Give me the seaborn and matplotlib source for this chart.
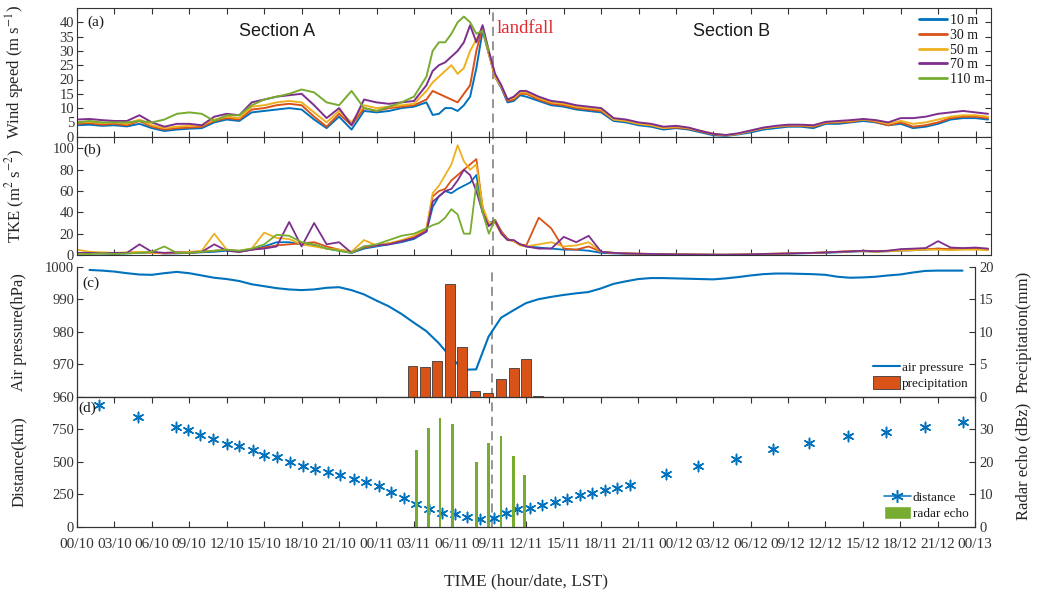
import numpy as np
import pandas as pd
import matplotlib
matplotlib.use("Agg")
import matplotlib.pyplot as plt
import seaborn as sns
from matplotlib.lines import Line2D
from matplotlib.patches import Patch

# ---------------- data ----------------
tick_labels = ["00/10", "03/10", "06/10", "09/10", "12/10", "15/10", "18/10", "21/10",
               "00/11", "03/11", "06/11", "09/11", "12/11", "15/11", "18/11", "21/11",
               "00/12", "03/12", "06/12", "09/12", "12/12", "15/12", "18/12", "21/12", "00/13"]
heights = ["10 m", "30 m", "50 m", "70 m", "110 m"]
line_colors = ["#0072BD", "#D95319", "#EDB120", "#7E2F8E", "#77AC30"]

# time (hours since 00 LST on the 10th) of the wind / TKE samples
time_h = [0, 1, 2, 3, 4, 5, 6, 7, 8, 9, 10, 11, 12, 13, 14, 15, 16, 17, 18, 19,
          20, 21, 22, 23, 24, 25, 26, 27,
          28.0, 28.5, 29.0, 29.5, 30.0, 30.5, 31.0, 31.5, 32.0, 32.5, 33.0, 33.5,
          34.0, 34.5, 35.0, 35.5,
          36, 37, 38, 39, 40, 41, 42, 43, 44, 45, 46, 47, 48, 49, 50, 51, 52, 53,
          54, 55, 56, 57, 58, 59, 60, 61, 62, 63, 64, 65, 66, 67, 68, 69, 70, 71, 72, 73]

ws_10 = [4.0, 4.2, 3.8, 4.0, 3.6, 4.5, 3.0, 2.0, 2.5, 2.8, 3.0, 5.0, 6.0, 5.5, 8.5, 9.0,
         9.5, 10.0, 9.5, 6.0, 3.0, 7.0, 2.5, 9.0, 8.5, 9.0, 10.0, 10.5,
         12, 7.6, 8, 10, 10, 9, 11, 14, 24, 37, 29, 21, 17, 12, 12.5, 14.5,
         14.0, 12.5, 11.0, 10.5, 9.5, 9.0, 8.5, 5.5, 5.0, 4.0, 3.5, 2.5, 3.0, 2.5, 1.5,
         0.5, 0.3, 0.8, 1.5, 2.5, 3.0, 3.5, 3.5, 3.0, 4.5, 4.5, 5.0, 5.5, 5.0, 4.0, 4.5,
         3.0, 3.5, 4.5, 6.0, 6.5, 6.5, 6.0]
ws_30 = [4.5, 4.8, 4.2, 4.5, 4.0, 5.5, 3.5, 2.5, 3.0, 3.2, 3.5, 5.5, 6.5, 6.0, 9.5, 10.0,
         11.0, 11.5, 11.0, 7.0, 3.5, 8.0, 4.0, 10.0, 9.0, 10.0, 10.5, 11.0,
         13, 16, 15, 14, 13, 12, 15, 18, 30, 38, 29, 21, 17.5, 12.5, 13, 15,
         15.0, 13.0, 11.5, 11.0, 10.0, 9.5, 9.0, 6.0, 5.5, 4.5, 4.0, 3.0, 3.2, 2.8, 1.8,
         0.8, 0.5, 1.0, 2.0, 3.0, 3.5, 3.8, 3.8, 3.5, 4.8, 5.0, 5.2, 6.0, 5.2, 4.0, 5.0,
         3.5, 4.0, 5.0, 6.5, 7.0, 7.0, 6.5]
ws_50 = [5.0, 5.2, 4.8, 5.0, 4.5, 6.0, 4.0, 3.0, 3.5, 3.8, 4.0, 6.0, 7.0, 6.5, 10.5, 11.0,
         12.0, 12.5, 12.0, 8.5, 5.0, 9.0, 5.0, 11.0, 10.0, 10.5, 11.0, 11.5,
         16, 19, 21, 23, 25, 22, 24, 30, 34, 38, 29, 21, 17.5, 13, 13.5, 15.5,
         15.5, 13.5, 12.0, 11.5, 10.5, 10.0, 9.5, 6.0, 5.5, 4.5, 4.0, 3.0, 3.5, 3.0, 2.0,
         1.0, 0.5, 1.0, 2.0, 3.0, 3.5, 4.0, 4.0, 3.8, 5.0, 5.2, 5.5, 6.0, 5.5, 4.5, 5.5,
         4.5, 5.0, 6.0, 7.0, 7.5, 7.5, 7.0]
ws_70 = [6.0, 6.2, 5.8, 5.5, 5.5, 7.5, 5.0, 3.5, 4.5, 4.5, 4.0, 7.0, 8.0, 7.5, 12.0, 13.0,
         14.0, 14.5, 15.0, 11.0, 6.5, 10.0, 4.0, 13.0, 12.0, 11.5, 12.0, 12.5,
         18, 23, 25, 26, 28, 30, 33, 39, 33, 39, 30, 22, 18, 13, 14, 16,
         16.0, 14.0, 12.5, 12.0, 11.0, 10.5, 10.0, 6.5, 6.0, 5.0, 4.5, 3.5, 3.8, 3.2, 2.0,
         1.0, 0.6, 1.2, 2.2, 3.2, 3.8, 4.2, 4.2, 4.0, 5.2, 5.5, 5.8, 6.2, 5.8, 5.0, 6.5,
         6.5, 7.0, 8.0, 8.5, 9.0, 8.5, 8.0]
ws_110 = [5.0, 5.5, 5.0, 5.0, 5.0, 5.5, 5.0, 6.0, 8.0, 8.5, 8.0, 5.5, 7.5, 7.5, 11.0, 13.0,
          14.0, 15.0, 16.5, 15.5, 12.0, 11.0, 16.0, 10.0, 9.0, 10.5, 12.0, 14.0,
          21, 30, 33, 33, 36, 40, 42, 40, 36, 37, 30]

tke_10 = [2, 1.5, 1.5, 1, 1.5, 2, 2.5, 1.5, 1.5, 2, 2.5, 3, 4, 3, 5, 8, 12, 12, 10, 9,
          6, 4, 2, 6, 8, 10, 12, 15,
          22, 45, 55, 60, 58, 62, 65, 68, 75, 40, 30, 32, 22, 15, 13, 10,
          8, 7, 6, 5, 5, 4, 2, 1.5, 1.2, 1.0, 0.8, 0.6, 0.5, 0.4, 0.3, 0.2, 0.2, 0.3, 0.5,
          0.8, 1.0, 1.2, 1.5, 1.8, 2.0, 2.5, 3.0, 3.5, 3.0, 3.5, 4.0, 4.5, 5.0, 6.0, 5.0,
          5.5, 6.0, 5.0]
tke_30 = [1.5, 1.5, 2, 1.5, 2, 2.5, 2, 1.5, 2, 2, 3, 4, 5, 3, 5, 7, 9, 10, 11, 12,
          8, 5, 3, 7, 9, 11, 13, 17,
          24, 55, 60, 62, 70, 75, 80, 85, 90, 45, 28, 33, 22, 15, 13, 10,
          9, 35, 25, 6, 5, 8, 3, 2, 1.5, 1.2, 1.0, 0.8, 0.6, 0.5, 0.4, 0.3, 0.3, 0.4, 0.6,
          1.0, 1.2, 1.5, 1.8, 2.0, 2.5, 3.0, 3.5, 4.0, 3.5, 4.0, 5.0, 5.0, 5.5, 6.0, 5.5,
          6.0, 6.0, 5.5]
tke_50 = [5, 3, 2.5, 2, 2.5, 3, 2, 2, 2.5, 3, 4, 20, 5, 4, 6, 21, 16, 15, 10, 8,
          6, 5, 3, 14, 9, 11, 14, 18,
          25, 58, 65, 75, 85, 103, 88, 80, 85, 45, 30, 30, 20, 14, 13, 9,
          8, 10, 12, 8, 9, 12, 3, 2, 1.5, 1.2, 1.0, 0.8, 0.6, 0.5, 0.4, 0.3, 0.3, 0.4, 0.6,
          1.0, 1.2, 1.5, 1.8, 2.0, 2.5, 3.0, 3.5, 3.5, 3.0, 3.5, 4.0, 4.5, 5.0, 5.0, 4.5,
          5.0, 5.0, 4.5]
tke_70 = [2, 2, 1.5, 2, 2, 10, 3, 2, 2.5, 2, 3, 10, 4, 3, 5, 6, 8, 31, 8, 30,
          10, 12, 2, 8, 9, 10, 13, 16,
          22, 50, 55, 60, 62, 70, 80, 75, 60, 40, 27, 32, 20, 14, 14, 10,
          8, 6, 6, 17, 12, 18, 3, 2, 1.5, 1.2, 1.0, 0.8, 0.6, 0.5, 0.4, 0.3, 0.3, 0.4, 0.6,
          1.0, 1.2, 1.5, 1.8, 2.0, 2.5, 3.0, 3.5, 4.0, 3.5, 4.0, 5.5, 6.0, 6.5, 13, 7,
          6.5, 7, 6]
tke_110 = [1, 1, 1.5, 1, 1.5, 2, 3, 8, 2, 2, 3, 4, 5, 4, 6, 10, 19, 18, 12, 10,
           6, 4, 2, 8, 10, 14, 18, 20,
           25, 28, 30, 35, 43, 38, 20, 20, 67, 40, 20, 33]

pres_time = list(range(1, 72))
pres_hpa = [999.0, 998.8, 998.5, 998.0, 997.6, 997.5, 998.0, 998.4, 998.0, 997.3,
            996.6, 996.2, 995.6, 994.6, 994.0, 993.4, 993.0, 992.8, 993.0, 993.5,
            993.7, 992.8, 991.5, 989.6, 987.8, 985.5, 982.8, 980.2, 976.5, 972.0,
            968.3, 968.4, 978.5, 984.3, 986.6, 988.8, 990.0, 990.7, 991.3, 991.8,
            992.2, 993.3, 994.7, 995.5, 996.2, 996.5, 996.5, 996.4, 996.3, 996.2,
            996.1, 996.4, 996.8, 997.3, 997.7, 997.9, 997.9, 997.8, 997.7, 997.5,
            996.9, 996.6, 996.7, 996.9, 997.3, 997.6, 998.2, 998.7, 998.8, 998.8,
            998.8]

precip_time = [26.9, 27.9, 28.9, 29.9, 30.9, 31.9, 32.95, 34.0, 35.05, 36.0, 36.95]
precip_mm = [4.7, 4.5, 5.5, 17.3, 7.6, 0.9, 0.6, 2.7, 4.4, 5.8, 0.1]

dist_time = [1.8, 4.9, 7.9, 8.9, 9.9, 10.9, 12.0, 13.0, 14.1, 15.0,
             16.0, 17.1, 18.1, 19.1, 20.1, 21.1, 22.2, 23.2, 24.2, 25.2,
             26.2, 27.2, 28.2, 29.3, 30.3, 31.3, 32.3, 33.4, 34.4, 35.3,
             36.3, 37.3, 38.3, 39.3, 40.3, 41.3, 42.3, 43.3, 44.3, 47.2,
             49.8, 52.8, 55.8, 58.7, 61.8, 64.9, 68.0, 71.0]
dist_km = [940, 844, 770, 742, 707, 674, 640, 617, 590, 554,
           534, 501, 470, 445, 419, 399, 369, 343, 313, 267,
           224, 178, 140, 102, 94, 76, 59, 69, 102, 133,
           145, 165, 191, 216, 242, 262, 280, 300, 318, 402,
           465, 521, 598, 643, 699, 732, 770, 806]

echo_time = [27.2, 28.2, 29.1, 30.1, 32.05, 33.0, 34.0, 35.0, 35.9]
echo_dbz = [23.7, 30.3, 33.3, 31.6, 19.8, 25.9, 28.0, 21.9, 16.0]

landfall_h = 33.3

# ---------------- style ----------------
sns.set_style("ticks")
plt.rcParams['font.family'] = ['Liberation Serif', 'DejaVu Serif']
plt.rcParams['mathtext.fontset'] = 'stix'
plt.rcParams['axes.edgecolor'] = '#333333'
plt.rcParams['axes.linewidth'] = 0.8
plt.rcParams['xtick.color'] = '#333333'
plt.rcParams['ytick.color'] = '#333333'
plt.rcParams['text.color'] = '#1a1a1a'

W, H = 1040, 592
fig = plt.figure(figsize=(W / 100, H / 100), dpi=100)


def rect(l, t, r, b):
    return [l / W, 1 - b / H, (r - l) / W, (b - t) / H]


ax_a = fig.add_axes(rect(77, 8, 991, 136.7))
ax_b = fig.add_axes(rect(77, 136.7, 991, 255))
ax_c = fig.add_axes(rect(77, 266.7, 975, 396.7))
ax_d = fig.add_axes(rect(77, 396.7, 975, 526.7))

PX_PER_H = 12.48
xmax_ab = (991 - 77) / PX_PER_H
xmax_cd = (975 - 77) / PX_PER_H


def long_frame(series, name):
    frames = []
    for lab, vals in zip(heights, series):
        frames.append(pd.DataFrame({"time": time_h[:len(vals)], name: vals, "height": lab}))
    return pd.concat(frames, ignore_index=True)


df_ws = long_frame([ws_10, ws_30, ws_50, ws_70, ws_110], "ws")
df_tke = long_frame([tke_10, tke_30, tke_50, tke_70, tke_110], "tke")

# ---- (a) wind speed ----
sns.lineplot(data=df_ws, x="time", y="ws", hue="height", hue_order=heights,
             palette=line_colors, lw=1.4, estimator=None, sort=False,
             legend=False, ax=ax_a)
ax_a.set_xlim(0, xmax_ab)
ax_a.set_ylim(0, 45)
ax_a.set_yticks(np.arange(0, 41, 5))
ax_a.set_ylabel("Wind speed (m s$^{-1}$)", fontsize=12)
ax_a.yaxis.set_label_coords(-0.0547, 0.5)
handles = [Line2D([0], [0], color=c, lw=2.0) for c in line_colors]
ax_a.legend(handles, heights, loc="upper right", bbox_to_anchor=(1.0, 1.0),
            frameon=False, fontsize=10, handlelength=2.0, handletextpad=0.25,
            labelspacing=0.12, borderaxespad=0.25, borderpad=0.2)
ax_a.text(16.0, 36.8, "Section A", family=["Liberation Sans", "DejaVu Sans"],
          fontsize=13, ha="center", va="center")
ax_a.text(52.46, 36.8, "Section B", family=["Liberation Sans", "DejaVu Sans"],
          fontsize=13, ha="center", va="center")
ax_a.text(33.6, 38.0, "landfall", color="#E3262B", fontsize=13.5,
          ha="left", va="center")
ax_a.text(0.011, 0.886, "(a)", transform=ax_a.transAxes, fontsize=11,
          ha="left", va="center")

# ---- (b) TKE ----
sns.lineplot(data=df_tke, x="time", y="tke", hue="height", hue_order=heights,
             palette=line_colors, lw=1.3, estimator=None, sort=False,
             legend=False, ax=ax_b)
ax_b.set_xlim(0, xmax_ab)
ax_b.set_ylim(0, 111)
ax_b.set_yticks(np.arange(0, 101, 20))
ax_b.set_ylabel("TKE (m$^2$ s$^{-2}$)", fontsize=12)
ax_b.yaxis.set_label_coords(-0.0547, 0.5)
ax_b.text(0.007, 0.888, "(b)", transform=ax_b.transAxes, fontsize=11,
          ha="left", va="center")

for ax in (ax_a, ax_b):
    ax.set_xticks(np.arange(0, 73, 3))
    ax.set_xticklabels([])
    ax.tick_params(direction="in", length=4, width=0.8, top=True, right=True,
                   labelsize=10.5, pad=2)
    ax.set_xlabel("")

# ---- (c) pressure + precipitation ----
sns.lineplot(x=pres_time, y=pres_hpa, color="#0072BD", lw=1.5, ax=ax_c)
ax_c.set_xlim(0, xmax_cd)
ax_c.set_ylim(960, 1000)
ax_c.set_yticks(np.arange(960, 1001, 10))
ax_c.set_ylabel("Air pressure(hPa)", fontsize=12)
ax_c.yaxis.set_label_coords(-0.0557, 0.5)
ax_c.set_xticks(np.arange(0, 73, 3))
ax_c.tick_params(axis="x", bottom=False, labelbottom=False)
ax_c.tick_params(axis="y", direction="in", length=4, width=0.8, labelsize=10.5, pad=2)
ax_c.spines["top"].set_visible(False)
ax_c.text(0.006, 0.875, "(c)", transform=ax_c.transAxes, fontsize=11,
          ha="left", va="center")

ax_c2 = ax_c.twinx()
ax_c2.bar(precip_time, precip_mm, width=0.8, color="#D95319",
          edgecolor="#3a3a3a", linewidth=0.6)
ax_c2.set_ylim(0, 20)
ax_c2.set_yticks(np.arange(0, 21, 5))
ax_c2.spines["top"].set_visible(False)
ax_c2.tick_params(axis="y", direction="in", length=4, width=0.8, labelsize=10.5, pad=3)
ax_c2.set_ylabel("Precipitation(mm)", fontsize=12)
ax_c2.yaxis.set_label_coords(1.045, 0.5)
ax_c2.legend([Line2D([0], [0], color="#0072BD", lw=1.5),
              Patch(facecolor="#D95319", edgecolor="#3a3a3a", linewidth=0.6)],
             ["air pressure", "precipitation"], loc="lower right",
             bbox_to_anchor=(1.0, 0.0), frameon=False, fontsize=9.5,
             handlelength=2.0, handleheight=1.1, handletextpad=0.15,
             labelspacing=0.15, borderaxespad=0.3, borderpad=0.2)

# ---- (d) distance + radar echo ----
sns.scatterplot(x=dist_time, y=dist_km, marker=(6, 2, 0), s=55,
                color="#0072BD", linewidth=1.1, ax=ax_d, zorder=3)
ax_d.set_xlim(0, xmax_cd)
ax_d.set_ylim(0, 1000)
ax_d.set_yticks([0, 250, 500, 750])
ax_d.set_ylabel("Distance(km)", fontsize=12)
ax_d.yaxis.set_label_coords(-0.0557, 0.5)
ax_d.set_xticks(np.arange(0, 73, 3))
ax_d.set_xticklabels(tick_labels)
ax_d.tick_params(axis="x", direction="in", length=4, width=0.8, top=True,
                 labelsize=11, pad=8)
ax_d.tick_params(axis="y", direction="in", length=4, width=0.8, labelsize=10.5, pad=2)
ax_d.set_xlabel("TIME (hour/date, LST)", fontsize=12.5, labelpad=16)
ax_d.text(0.002, 0.91, "(d)", transform=ax_d.transAxes, fontsize=11,
          ha="left", va="center")

ax_d2 = ax_d.twinx()
ax_d2.bar(echo_time, echo_dbz, width=0.22, color="#77AC30", linewidth=0)
ax_d2.set_ylim(0, 40)
ax_d2.set_yticks([0, 10, 20, 30])
ax_d2.tick_params(axis="y", direction="in", length=4, width=0.8, labelsize=10.5, pad=3)
ax_d2.set_ylabel("Radar echo (dBz)", fontsize=12)
ax_d2.yaxis.set_label_coords(1.045, 0.5)
ax_d2.legend([Line2D([0], [0], color="#0072BD", lw=1.1, marker=(6, 2, 0),
                     markersize=9, markeredgewidth=1.1),
              Patch(facecolor="#77AC30")],
             ["distance", "radar echo"], loc="lower right",
             bbox_to_anchor=(1.0, 0.0), frameon=False, fontsize=9.5,
             handlelength=2.0, handleheight=1.1, handletextpad=0.15,
             labelspacing=0.15, borderaxespad=0.3, borderpad=0.2)

# landfall marker
for ax in (ax_a, ax_b, ax_c, ax_d):
    ax.axvline(landfall_h, color="#8c8c8c", ls=(0, (5, 3)), lw=1.3, zorder=1.5)

fig.savefig("out.png", dpi=100)
